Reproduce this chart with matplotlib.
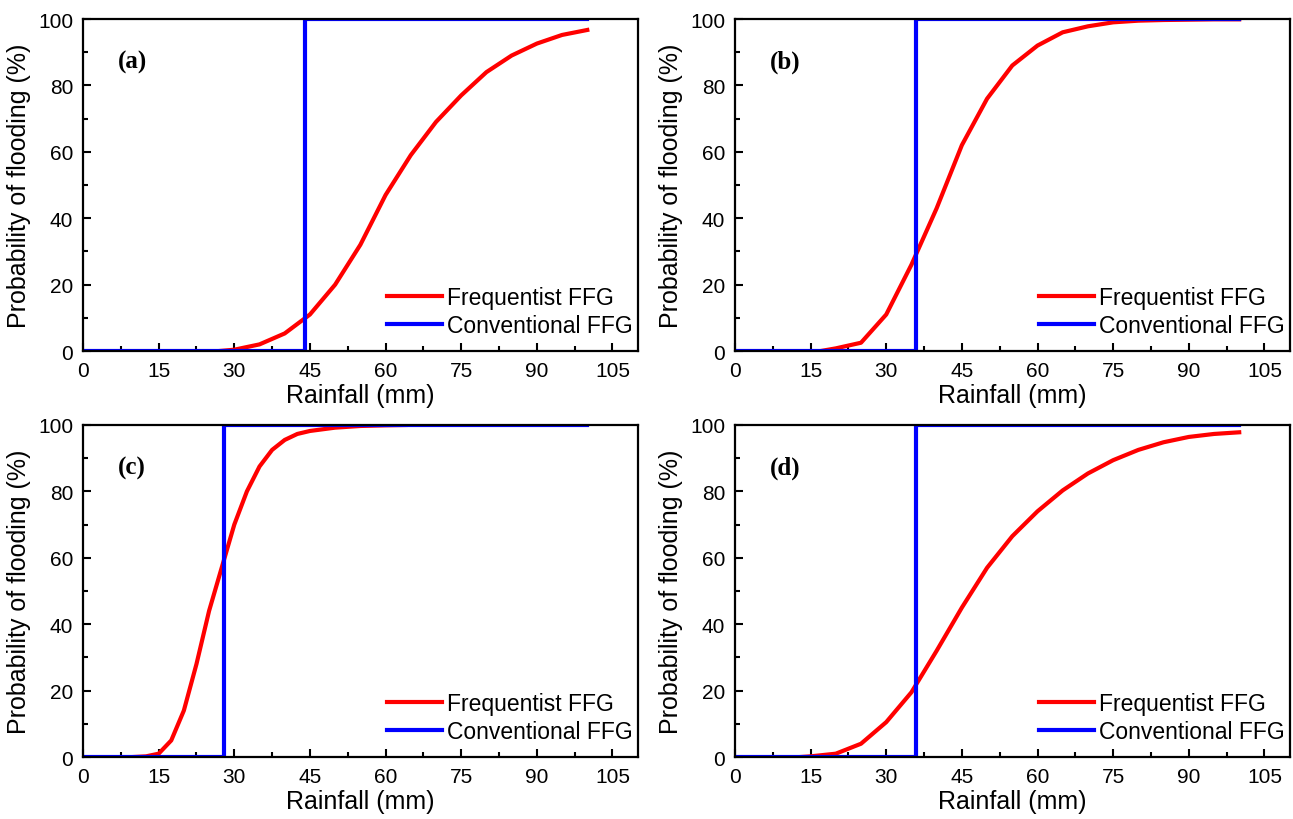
import numpy as np
import matplotlib
matplotlib.use('Agg')
import matplotlib.pyplot as plt
from matplotlib.ticker import MultipleLocator

plt.rcParams['font.family'] = ['Liberation Sans', 'DejaVu Sans']

# rainfall (mm) and probability of flooding (%)
rain_a = [27, 30, 35, 40, 45, 50, 55, 60, 65, 70, 75, 80, 85, 90, 95, 100]
prob_a = [0, 0.4, 2, 5.3, 11, 20, 32, 47, 59, 69, 77, 84, 89, 92.6, 95.2, 96.7]

rain_b = [17, 20, 25, 30, 35, 40, 45, 50, 55, 60, 65, 70, 75, 80, 85, 90, 95, 100]
prob_b = [0, 0.8, 2.5, 11, 26, 43, 62, 76, 86, 92, 96, 97.8, 99, 99.5, 99.7, 99.8, 99.9, 99.9]

rain_c = [10, 12.5, 15, 17.5, 20, 22.5, 25, 27.5, 30, 32.5, 35, 37.5, 40, 42.5, 45, 50, 55, 60, 64]
prob_c = [0, 0.2, 1, 5, 14, 28, 44, 57, 70, 80, 87.5, 92.5, 95.5, 97.3, 98.2, 99.2, 99.7, 99.9, 100]

rain_d = [13, 15, 20, 25, 30, 35, 40, 45, 50, 55, 60, 65, 70, 75, 80, 85, 90, 95, 100]
prob_d = [0, 0.2, 1, 4, 10.5, 19.5, 32, 45, 57, 66.5, 74, 80.3, 85.4, 89.4, 92.5, 94.8, 96.4, 97.3, 97.8]

# conventional FFG thresholds (mm)
ffg_thresh = [44, 36, 28, 36]
panel_names = ['(a)', '(b)', '(c)', '(d)']

rains = [rain_a, rain_b, rain_c, rain_d]
probs = [prob_a, prob_b, prob_c, prob_d]

fig = plt.figure(figsize=(12.93, 8.2), dpi=100)
lefts = [0.0642, 0.5684]
bottoms = [0.5707, 0.0756]
w, h = 0.429, 0.4049

for i in range(4):
    row, col = i // 2, i % 2
    ax = fig.add_axes([lefts[col], bottoms[row], w, h])

    ax.plot(rains[i], probs[i], color='red', lw=3, label='Frequentist FFG')
    t = ffg_thresh[i]
    ax.plot([0, t, t, 100], [0, 0, 100, 100], color='blue', lw=3,
            label='Conventional FFG')

    ax.set_xlim(0, 110)
    ax.set_ylim(0, 100)
    ax.xaxis.set_major_locator(MultipleLocator(15))
    ax.xaxis.set_minor_locator(MultipleLocator(7.5))
    ax.yaxis.set_major_locator(MultipleLocator(20))
    ax.yaxis.set_minor_locator(MultipleLocator(10))
    ax.tick_params(which='both', direction='in', width=1.5, top=False, right=False)
    ax.tick_params(which='major', length=6, labelsize=15, pad=7)
    ax.tick_params(which='minor', length=3.5)
    for s in ax.spines.values():
        s.set_linewidth(1.6)

    ax.set_xlabel('Rainfall (mm)', fontsize=18, labelpad=2)
    ax.set_ylabel('Probability of flooding (%)', fontsize=18, labelpad=5)

    ax.text(6.9, 87.3, panel_names[i], fontsize=18, fontweight='bold',
            family='Liberation Serif', ha='left', va='center')

    ax.legend(loc='lower right', bbox_to_anchor=(1.0, 0.028), frameon=False,
              fontsize=16.5, handlelength=2.4, handletextpad=0.25,
              labelspacing=0.22, borderpad=0.2, borderaxespad=0)

fig.savefig('out.png', dpi=100)
